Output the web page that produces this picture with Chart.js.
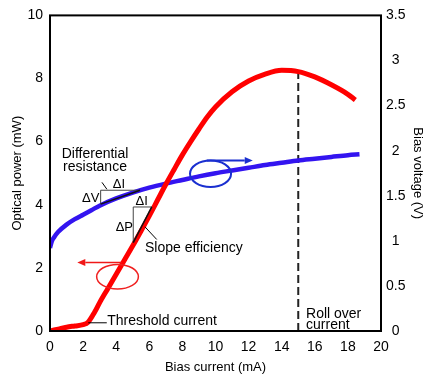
<!DOCTYPE html>
<html>
<head>
<meta charset="utf-8">
<script src="https://cdn.jsdelivr.net/npm/chart.js@4/dist/chart.umd.min.js"></script>
<style>
html,body{margin:0;padding:0;background:#fff;}
#wrap{width:426px;height:378px;}
</style>
</head>
<body>
<div id="wrap"><canvas id="c" width="426" height="378"></canvas></div>
<script>
// ---- data ----
const currentPower = [0, 0.5, 1, 1.5, 2, 2.3, 2.7, 3, 3.5, 4, 4.5, 5, 5.5, 6, 6.5, 7, 7.5, 8, 8.5, 9, 9.5, 10, 11, 12, 13, 14, 15, 16, 17, 18, 18.45];
const opticalPower = [0, 0.06, 0.12, 0.16, 0.2, 0.28, 0.6, 0.9, 1.35, 1.8, 2.25, 2.7, 3.17, 3.65, 4.15, 4.65, 5.12, 5.58, 6.0, 6.4, 6.78, 7.1, 7.58, 7.92, 8.14, 8.26, 8.22, 8.05, 7.8, 7.5, 7.32];
const currentVoltage = [0, 0.1, 0.25, 0.5, 1, 1.5, 2, 2.5, 3, 4, 5, 6, 7, 8, 9, 10, 11, 12, 13, 14, 15, 16, 17, 18, 18.7];
const biasVoltage = [0.92, 0.99, 1.04, 1.1, 1.18, 1.24, 1.29, 1.34, 1.39, 1.47, 1.535, 1.59, 1.635, 1.675, 1.715, 1.75, 1.78, 1.81, 1.84, 1.865, 1.89, 1.91, 1.93, 1.95, 1.96];
const rollOverCurrent = 15.0;
const rollOverPower = 8.2;
const xTicks = [0, 2, 4, 6, 8, 10, 12, 14, 16, 18, 20];
const powerTicks = [0, 2, 4, 6, 8, 10];
const voltageTicks = [0, 0.5, 1, 1.5, 2, 2.5, 3, 3.5];

// ---- annotations (in data units: mA, mW) ----
const noteTexts = [
  {t: 'Differential', x: 2.72, y: 5.59, a: 'center', s: 14},
  {t: 'resistance', x: 2.72, y: 5.18, a: 'center', s: 14},
  {t: 'ΔI', x: 4.17, y: 4.65, a: 'center', s: 13},
  {t: 'ΔV', x: 2.46, y: 4.21, a: 'center', s: 13},
  {t: 'ΔI', x: 5.54, y: 4.11, a: 'center', s: 13},
  {t: 'ΔP', x: 4.49, y: 3.29, a: 'center', s: 13},
  {t: 'Slope efficiency', x: 5.74, y: 2.63, a: 'left', s: 14},
  {t: 'Threshold current', x: 3.46, y: 0.30, a: 'left', s: 14},
  {t: 'Roll over', x: 15.47, y: 0.52, a: 'left', s: 14},
  {t: 'current', x: 15.47, y: 0.19, a: 'left', s: 14}
];
const noteLines = [
  {p: [[3.14, 4.71], [3.44, 4.49]], c: '#000', w: 1},
  {p: [[5.44, 4.46], [3.06, 4.46], [3.06, 4.02]], c: '#444', w: 1},
  {p: [[3.06, 4.02], [5.44, 4.46]], c: '#111', w: 1.5},
  {p: [[6.15, 3.93], [5.03, 3.93], [5.03, 2.80]], c: '#444', w: 1},
  {p: [[5.03, 2.80], [6.15, 3.93]], c: '#111', w: 1.5},
  {p: [[5.74, 3.30], [6.45, 2.90]], c: '#000', w: 1},
  {p: [[2.31, 0.26], [3.43, 0.26]], c: '#000', w: 1}
];
const noteEllipses = [
  {x: 4.08, y: 1.72, rx: 1.26, ry: 0.39, c: '#f02020', w: 1.5},
  {x: 9.70, y: 4.98, rx: 1.24, ry: 0.42, c: '#1a2fd0', w: 2}
];
const noteArrows = [
  {from: [4.33, 2.17], to: [1.65, 2.17], c: '#f01818', w: 1.5},
  {from: [9.47, 5.40], to: [12.25, 5.40], c: '#1a2fd0', w: 2}
];

const FONT = "'Liberation Sans', Arial, Helvetica, sans-serif";
Chart.defaults.font.family = FONT;
Chart.defaults.color = '#000';

const notesPlugin = {
  id: 'notes',
  afterDatasetsDraw(chart) {
    const {ctx, scales: {x, y}} = chart;
    const px = v => x.getPixelForValue(v);
    const py = v => y.getPixelForValue(v);
    ctx.save();
    for (const seg of noteLines) {
      ctx.beginPath();
      ctx.strokeStyle = seg.c; ctx.lineWidth = seg.w;
      seg.p.forEach(([a, b], i) => i ? ctx.lineTo(px(a), py(b)) : ctx.moveTo(px(a), py(b)));
      ctx.stroke();
    }
    for (const e of noteEllipses) {
      const cx = px(e.x), cy = py(e.y);
      const rx = Math.abs(px(e.x + e.rx) - cx), ry = Math.abs(py(e.y + e.ry) - cy);
      ctx.beginPath();
      ctx.strokeStyle = e.c; ctx.lineWidth = e.w;
      ctx.ellipse(cx, cy, rx, ry, 0, 0, Math.PI * 2);
      ctx.stroke();
    }
    for (const a of noteArrows) {
      const x1 = px(a.from[0]), y1 = py(a.from[1]);
      const x2 = px(a.to[0]), y2 = py(a.to[1]);
      const ang = Math.atan2(y2 - y1, x2 - x1);
      const hl = 8, hw = 3.5;
      ctx.beginPath();
      ctx.strokeStyle = a.c; ctx.lineWidth = a.w;
      ctx.moveTo(x1, y1);
      ctx.lineTo(x2 - hl * Math.cos(ang), y2 - hl * Math.sin(ang));
      ctx.stroke();
      ctx.beginPath();
      ctx.fillStyle = a.c;
      ctx.moveTo(x2, y2);
      ctx.lineTo(x2 - hl * Math.cos(ang) + hw * Math.sin(ang), y2 - hl * Math.sin(ang) - hw * Math.cos(ang));
      ctx.lineTo(x2 - hl * Math.cos(ang) - hw * Math.sin(ang), y2 - hl * Math.sin(ang) + hw * Math.cos(ang));
      ctx.closePath();
      ctx.fill();
    }
    ctx.fillStyle = '#000';
    ctx.textBaseline = 'middle';
    for (const t of noteTexts) {
      ctx.font = t.s + 'px ' + FONT;
      ctx.textAlign = t.a;
      ctx.fillText(t.t, px(t.x), py(t.y));
    }
    const ca = chart.chartArea;
    ctx.strokeStyle = '#000'; ctx.lineWidth = 2;
    ctx.strokeRect(ca.left, ca.top, ca.right - ca.left, ca.bottom - ca.top);
    ctx.restore();
  }
};

const toXY = (xs, ys) => xs.map((v, i) => ({x: v, y: ys[i]}));

new Chart(document.getElementById('c'), {
  type: 'line',
  data: {
    datasets: [
      {
        label: 'Optical power',
        data: toXY(currentPower, opticalPower),
        yAxisID: 'y',
        borderColor: '#ff0000',
        borderWidth: 5,
        cubicInterpolationMode: 'monotone',
        pointRadius: 0,
        fill: false
      },
      {
        label: 'Bias voltage',
        data: toXY(currentVoltage, biasVoltage),
        yAxisID: 'y1',
        borderColor: '#3314f0',
        borderWidth: 4.5,
        cubicInterpolationMode: 'monotone',
        pointRadius: 0,
        fill: false
      },
      {
        label: 'Roll over current',
        data: toXY([rollOverCurrent, rollOverCurrent], [0, rollOverPower]),
        yAxisID: 'y',
        borderColor: '#222',
        borderWidth: 2,
        borderDash: [8, 4],
        pointRadius: 0,
        fill: false
      }
    ]
  },
  options: {
    responsive: false,
    animation: false,
    devicePixelRatio: 1,
    layout: {padding: {top: 13, left: 0, right: 0, bottom: 0}},
    plugins: {legend: {display: false}, tooltip: {enabled: false}},
    scales: {
      x: {
        type: 'linear', min: 0, max: 20,
        afterBuildTicks: s => { s.ticks = xTicks.map(v => ({value: v})); },
        afterFit: s => { s.height = 47; },
        grid: {display: false, drawTicks: false},
        border: {display: false},
        ticks: {font: {size: 14}, color: '#000', padding: 8, maxRotation: 0, autoSkip: false, callback: v => String(v)},
        title: {display: true, text: 'Bias current (mA)', font: {size: 13}, color: '#000', padding: {top: 0, bottom: 3}}
      },
      y: {
        type: 'linear', position: 'left', min: 0, max: 10,
        afterBuildTicks: s => { s.ticks = powerTicks.map(v => ({value: v})); },
        afterFit: s => { s.width = 50; },
        grid: {display: false, drawTicks: false},
        border: {display: false},
        ticks: {font: {size: 14}, color: '#000', padding: 7, autoSkip: false, callback: v => String(v)},
        title: {display: true, text: 'Optical power (mW)', font: {size: 13}, color: '#000', padding: {top: 10, bottom: 0}}
      },
      y1: {
        type: 'linear', position: 'right', min: 0, max: 3.5,
        afterBuildTicks: s => { s.ticks = voltageTicks.map(v => ({value: v})); },
        afterFit: s => { s.width = 45; },
        grid: {display: false, drawTicks: false},
        border: {display: false},
        ticks: {font: {size: 14}, color: '#000', padding: 5, crossAlign: 'center', autoSkip: false, callback: v => String(v)},
        title: {display: true, text: 'Bias voltage (V)', font: {size: 13}, color: '#000', padding: {top: 1, bottom: 0}}
      }
    }
  },
  plugins: [notesPlugin]
});
</script>
</body>
</html>
